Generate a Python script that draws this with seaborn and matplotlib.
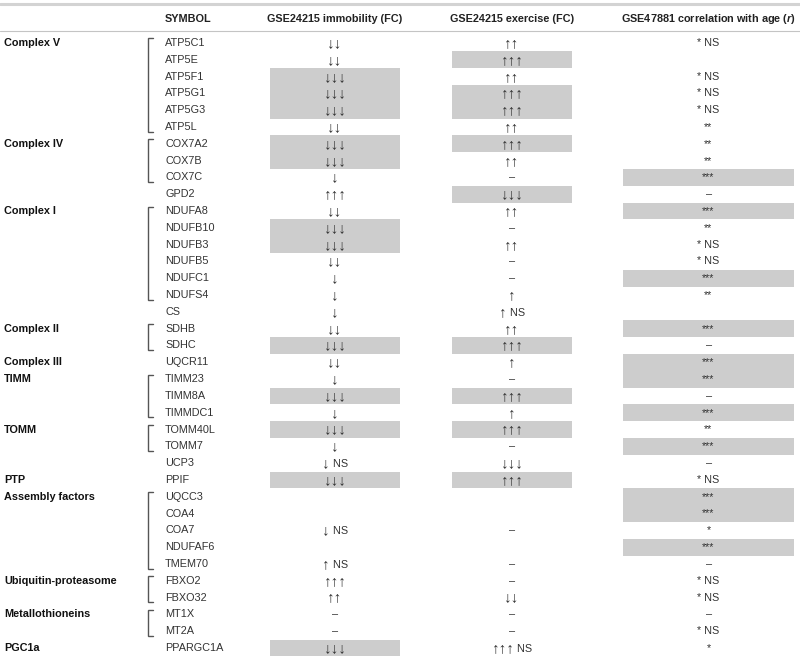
import matplotlib
matplotlib.use('Agg')
import matplotlib.pyplot as plt
from matplotlib.colors import ListedColormap
from matplotlib.offsetbox import TextArea, HPacker, AnnotationBbox
import pandas as pd
import seaborn as sns

symbols = ['ATP5C1', 'ATP5E', 'ATP5F1', 'ATP5G1', 'ATP5G3', 'ATP5L',
           'COX7A2', 'COX7B', 'COX7C', 'GPD2',
           'NDUFA8', 'NDUFB10', 'NDUFB3', 'NDUFB5', 'NDUFC1', 'NDUFS4', 'CS',
           'SDHB', 'SDHC', 'UQCR11', 'TIMM23', 'TIMM8A', 'TIMMDC1',
           'TOMM40L', 'TOMM7', 'UCP3', 'PPIF',
           'UQCC3', 'COA4', 'COA7', 'NDUFAF6', 'TMEM70',
           'FBXO2', 'FBXO32', 'MT1X', 'MT2A', 'PPARGC1A']

immobility = ['↓↓', '↓↓', '↓↓↓', '↓↓↓', '↓↓↓', '↓↓',
              '↓↓↓', '↓↓↓', '↓', '↑↑↑',
              '↓↓', '↓↓↓', '↓↓↓', '↓↓', '↓', '↓', '↓',
              '↓↓', '↓↓↓', '↓↓', '↓', '↓↓↓', '↓',
              '↓↓↓', '↓', '↓ NS', '↓↓↓',
              '', '', '↓ NS', '', '↑ NS',
              '↑↑↑', '↑↑', '–', '–', '↓↓↓']
immobility_shade = [0, 0, 1, 1, 1, 0,
                    1, 1, 0, 0,
                    0, 1, 1, 0, 0, 0, 0,
                    0, 1, 0, 0, 1, 0,
                    1, 0, 0, 1,
                    0, 0, 0, 0, 0,
                    0, 0, 0, 0, 1]

exercise = ['↑↑', '↑↑↑', '↑↑', '↑↑↑', '↑↑↑', '↑↑',
            '↑↑↑', '↑↑', '–', '↓↓↓',
            '↑↑', '–', '↑↑', '–', '–', '↑', '↑ NS',
            '↑↑', '↑↑↑', '↑', '–', '↑↑↑', '↑',
            '↑↑↑', '–', '↓↓↓', '↑↑↑',
            '', '', '–', '', '–',
            '–', '↓↓', '–', '–', '↑↑↑ NS']
exercise_shade = [0, 1, 0, 1, 1, 0,
                  1, 0, 0, 1,
                  0, 0, 0, 0, 0, 0, 0,
                  0, 1, 0, 0, 1, 0,
                  1, 0, 0, 1,
                  0, 0, 0, 0, 0,
                  0, 0, 0, 0, 0]

age_corr = ['* NS', '', '* NS', '* NS', '* NS', '**',
            '**', '**', '***', '–',
            '***', '**', '* NS', '* NS', '***', '**', '',
            '***', '–', '***', '***', '–', '***',
            '**', '***', '–', '* NS',
            '***', '***', '*', '***', '–',
            '* NS', '* NS', '–', '* NS', '*']
age_shade = [0, 0, 0, 0, 0, 0,
             0, 0, 1, 0,
             1, 0, 0, 0, 1, 0, 0,
             1, 0, 1, 1, 0, 1,
             0, 1, 0, 0,
             1, 1, 0, 1, 0,
             0, 0, 0, 0, 0]

groups = ['Complex V', 'Complex IV', 'Complex I', 'Complex II', 'Complex III',
          'TIMM', 'TOMM', 'PTP', 'Assembly factors', 'Ubiquitin-proteasome',
          'Metallothioneins', 'PGC1a']
group_first = ['ATP5C1', 'COX7A2', 'NDUFA8', 'SDHB', 'UQCR11', 'TIMM23',
               'TOMM40L', 'PPIF', 'UQCC3', 'FBXO2', 'MT1X', 'PPARGC1A']
group_last = ['ATP5L', 'COX7C', 'NDUFS4', 'SDHC', 'UQCR11', 'TIMMDC1',
              'TOMM7', 'PPIF', 'TMEM70', 'FBXO32', 'MT2A', 'PPARGC1A']

headers = ['SYMBOL', 'GSE24215 immobility (FC)', 'GSE24215 exercise (FC)',
           'GSE47881 correlation with age ($\\it{r}$)']

df = pd.DataFrame({'symbol': symbols,
                   'immobility': immobility, 'immobility_shade': immobility_shade,
                   'exercise': exercise, 'exercise_shade': exercise_shade,
                   'age': age_corr, 'age_shade': age_shade})

# ---- style
sns.set_theme(style='white')
plt.rcParams['font.family'] = ['Liberation Sans', 'DejaVu Sans']
plt.rcParams['mathtext.fontset'] = 'custom'
plt.rcParams['mathtext.it'] = 'Liberation Sans:italic:bold'

W, H = 800, 660
n = len(symbols)
row_top, row_bottom = 34.6, 656.4      # pixel extent of the body
head_bottom = 34.6
txt = '#333333'
shade = '#cdcdcd'
fs = 7.8
fs_arrow = 11


def px_rect(x0, x1, y0, y1):
    return [x0 / W, 1 - y1 / H, (x1 - x0) / W, (y1 - y0) / H]


def draw_cell(ax, y, label):
    # arrows are set a bit larger than the rest of the text
    if not label:
        return
    arrows = label.rstrip(' NS') if label[0] in '↑↓' else ''
    rest = label[len(arrows):]
    parts = []
    if arrows:
        parts.append(TextArea(arrows, textprops=dict(fontsize=fs_arrow, color=txt)))
    if rest:
        parts.append(TextArea(rest, textprops=dict(fontsize=fs, color=txt)))
    box = HPacker(children=parts, align='baseline', pad=0, sep=0)
    ab = AnnotationBbox(box, (0.5, y), xycoords='data', frameon=False,
                        box_alignment=(0.5, 0.5), pad=0)
    ax.add_artist(ab)


fig = plt.figure(figsize=(8, 6.6), dpi=100)

# header band
hax = fig.add_axes(px_rect(0, W, 0, head_bottom))
hax.set_xlim(0, W)
hax.set_ylim(head_bottom, 0)
hax.set_axis_off()
hax.axhline(3.5, color='#d3d3d3', lw=2.2)
hax.axhline(31, color='#c4c4c4', lw=0.8)
hax.text(165, 19, headers[0], ha='left', va='center', fontsize=fs,
         fontweight='bold', color='#222222')
for xc, h in zip([335, 512, 708], headers[1:]):
    hax.text(xc, 19, h, ha='center', va='center', fontsize=fs,
             fontweight='bold', color='#222222')

# left part: group labels, brackets, symbols
lax = fig.add_axes(px_rect(0, W, row_top, row_bottom))
lax.set_xlim(0, W)
lax.set_ylim(n, 0)
lax.set_axis_off()
pos = {s: i + 0.5 for i, s in enumerate(df['symbol'])}
for s, y in pos.items():
    lax.text(165, y, s, ha='left', va='center', fontsize=fs, color=txt)
for g, a, b in zip(groups, group_first, group_last):
    lax.text(4, pos[a], g, ha='left', va='center', fontsize=fs,
             fontweight='bold', color='#111111')
    if a != b:
        y0, y1 = pos[a] - 0.27, pos[b] + 0.27
        lax.plot([153, 147.5, 147.5, 153], [y0, y0, y1, y1],
                 color='#555555', lw=1, solid_joinstyle='miter')

# value columns: one-column heatmaps for the shading, then the labels
cmap = ListedColormap(['white', shade])
for (x0, x1), col in zip([(270, 400), (452, 572), (623, 794)],
                         ['immobility', 'exercise', 'age']):
    ax = fig.add_axes(px_rect(x0, x1, row_top, row_bottom))
    sns.heatmap(df[[col + '_shade']], cmap=cmap, vmin=0, vmax=1, cbar=False,
                xticklabels=False, yticklabels=False, ax=ax)
    ax.set_axis_off()
    for i, lab in enumerate(df[col]):
        draw_cell(ax, i + 0.5, lab)

plt.savefig('out.png', dpi=100)
plt.close()
